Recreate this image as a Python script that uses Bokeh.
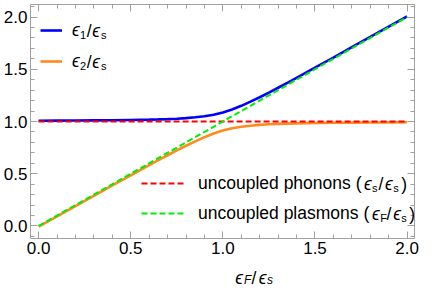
from bokeh.plotting import figure
from bokeh.layouts import column
from bokeh.models import (Range1d, LinearAxis, FixedTicker, Legend, LegendItem, Label,
                          PrintfTickFormatter, CustomLabelingPolicy)
from bokeh.embed import file_html
from bokeh.resources import INLINE

# ---------------- data ----------------
x_vals = [0.0, 0.1, 0.2, 0.3, 0.4, 0.5, 0.6, 0.65, 0.7, 0.75, 0.8, 0.85, 0.9, 0.95,
          1.0, 1.05, 1.1, 1.15, 1.2, 1.25, 1.3, 1.35, 1.4, 1.5, 1.6, 1.7, 1.8, 1.9, 2.0]
eps1 = [1.007, 1.008, 1.009, 1.011, 1.012, 1.015, 1.018, 1.020, 1.023, 1.027, 1.032, 1.040,
        1.050, 1.065, 1.087, 1.115, 1.150, 1.190, 1.232, 1.277, 1.323, 1.370, 1.418, 1.515,
        1.612, 1.711, 1.809, 1.908, 2.007]
eps2 = [-0.007, 0.092, 0.191, 0.289, 0.388, 0.485, 0.582, 0.630, 0.677, 0.723, 0.768, 0.810,
        0.850, 0.885, 0.913, 0.935, 0.950, 0.960, 0.968, 0.973, 0.977, 0.980, 0.982, 0.985,
        0.988, 0.989, 0.991, 0.992, 0.993]
phonon_x = [0.0, 2.0]
phonon_y = [1.0, 1.0]
plasmon_x = [0.0, 2.0]
plasmon_y = [0.0, 2.0]

x_ticks = [0.0, 0.5, 1.0, 1.5, 2.0]
y_ticks = [0.0, 0.5, 1.0, 1.5, 2.0]
x_minor = [-0.1, 0.1, 0.2, 0.3, 0.4, 0.6, 0.7, 0.8, 0.9, 1.1, 1.2, 1.3, 1.4, 1.6, 1.7, 1.8, 1.9, 2.1]
y_minor = [-0.1, 0.1, 0.2, 0.3, 0.4, 0.6, 0.7, 0.8, 0.9, 1.1, 1.2, 1.3, 1.4, 1.6, 1.7, 1.8, 1.9, 2.1]

FONT = "Liberation Sans"
FRAME = "#a0a0a0"
FS = "17.5px"

p = figure(width=420, height=260, output_backend="svg", toolbar_location=None,
           x_range=Range1d(-0.044, 2.04), y_range=Range1d(-0.12, 2.12),
           min_border_left=28, min_border_right=1, min_border_top=1, min_border_bottom=22)
p.xgrid.visible = False
p.ygrid.visible = False
p.outline_line_color = None
p.background_fill_color = "white"
p.border_fill_color = "white"

p.add_layout(LinearAxis(), "above")
p.add_layout(LinearAxis(), "right")

no_labels = CustomLabelingPolicy(code="""
const ks = Array.from(indices);
for (const k of ks) { indices.unset(k); }
return indices;
""")


def style_axis(ax, ticks, minor, labels):
    ax.ticker = FixedTicker(ticks=ticks, minor_ticks=minor)
    ax.formatter = PrintfTickFormatter(format="%.1f")
    ax.axis_line_color = FRAME
    ax.major_tick_line_color = FRAME
    ax.minor_tick_line_color = FRAME
    ax.major_tick_in = 7
    ax.major_tick_out = 0
    ax.minor_tick_in = 4
    ax.minor_tick_out = 0
    ax.major_label_text_font = FONT
    ax.major_label_text_color = "black"
    if labels:
        ax.major_label_text_font_size = "17px"
        ax.major_label_standoff = 3
    else:
        ax.major_label_text_font_size = "2px"
        ax.major_label_standoff = 0
        ax.major_label_policy = no_labels


style_axis(p.below[0], x_ticks, x_minor, True)
style_axis(p.above[0], x_ticks, x_minor, False)
style_axis(p.left[0], y_ticks, y_minor, True)
style_axis(p.right[0], y_ticks, y_minor, False)

r1 = p.line(x_vals, eps1, line_color="#0000ff", line_width=2.6)
r2 = p.line(x_vals, eps2, line_color="#ff8a1e", line_width=2.6)
r3 = p.line(phonon_x, phonon_y, line_color="#ff0000", line_width=2, line_dash="6 3")
r4 = p.line(plasmon_x, plasmon_y, line_color="#00ee00", line_width=2, line_dash="6 3")

common = dict(padding=0, margin=0, border_line_color=None, background_fill_alpha=0,
              label_text_font=FONT, label_text_font_size=FS, label_text_color="black",
              glyph_height=22, label_height=22)
leg1 = Legend(items=[LegendItem(label="ϵ", renderers=[r1]), LegendItem(label="ϵ", renderers=[r2])],
              location=(10, 166), glyph_width=22, label_standoff=10, spacing=9,
              label_text_font_style="italic", **common)
leg2 = Legend(items=[LegendItem(label="uncoupled phonons (", renderers=[r3]),
                     LegendItem(label="uncoupled plasmons (", renderers=[r4])],
              location=(111, 14), glyph_width=45, label_standoff=12, spacing=8, **common)
p.add_layout(leg1)
p.add_layout(leg2)

SUB_DY = -4.8


def pieces_mid(fig, x0, yc, pieces, offsets):
    """Place text pieces (main size centred on yc, subscripts lowered)."""
    for (txt, kind, fstyle), dx in zip(pieces, offsets):
        if kind == "sub":
            size, y = "11px", yc + SUB_DY
        else:
            size, y = FS, yc
        fig.add_layout(Label(x=x0 + dx, y=y, x_units="screen", y_units="screen", text=txt,
                             text_font=FONT, text_font_size=size, text_font_style=fstyle,
                             text_color="black", text_baseline="middle", text_align="left"))


# legend 1 (rest of ϵ1/ϵs and ϵ2/ϵs after the legend's own "ϵ")
off1 = [7.6, 14.4, 20.0, 28.8]
pieces_mid(p, 41.8, 208, [("1", "sub", "normal"), ("/", "main", "normal"),
                          ("ϵ", "main", "italic"), ("s", "sub", "normal")], off1)
pieces_mid(p, 41.8, 177, [("2", "sub", "normal"), ("/", "main", "normal"),
                          ("ϵ", "main", "italic"), ("s", "sub", "normal")], off1)

# legend 2 (the parenthesised ratios)
off2 = [0, 8.2, 14.6, 21.2, 29.3, 37.3]
pieces_mid(p, 333.4, 55, [("ϵ", "main", "italic"), ("s", "sub", "normal"), ("/", "main", "normal"),
                          ("ϵ", "main", "italic"), ("s", "sub", "normal"), (")", "main", "normal")], off2)
pieces_mid(p, 341.5, 25, [("ϵ", "main", "italic"), ("F", "sub", "normal"), ("/", "main", "normal"),
                          ("ϵ", "main", "italic"), ("s", "sub", "normal"), (")", "main", "normal")], off2)

# x-axis title  ϵF/ϵs in its own strip below the plot
t = figure(width=420, height=26, output_backend="svg", toolbar_location=None,
           x_range=Range1d(0, 1), y_range=Range1d(0, 1), x_axis_location=None, y_axis_location=None,
           min_border=0)
t.xgrid.visible = False
t.ygrid.visible = False
t.outline_line_color = None
t.background_fill_color = "white"
t.border_fill_color = "white"
title_pieces = [("ϵ", 17.5, 0, "italic"), ("F", 12, -2.5, "italic"), ("/", 17.5, 0, "normal"),
                ("ϵ", 17.5, 0, "italic"), ("s", 12, -2.5, "italic")]
title_off = [0, 8.8, 16.3, 23.4, 31.6]
for (txt, size, dy, fstyle), dx in zip(title_pieces, title_off):
    t.add_layout(Label(x=204.8 + dx, y=9 + dy, x_units="screen", y_units="screen", text=txt,
                       text_font=FONT, text_font_size=f"{size}px", text_font_style=fstyle,
                       text_color="black", text_baseline="alphabetic", text_align="left"))

layout = column(p, t, spacing=0)
open("out.html", "w").write(file_html(layout, INLINE))
